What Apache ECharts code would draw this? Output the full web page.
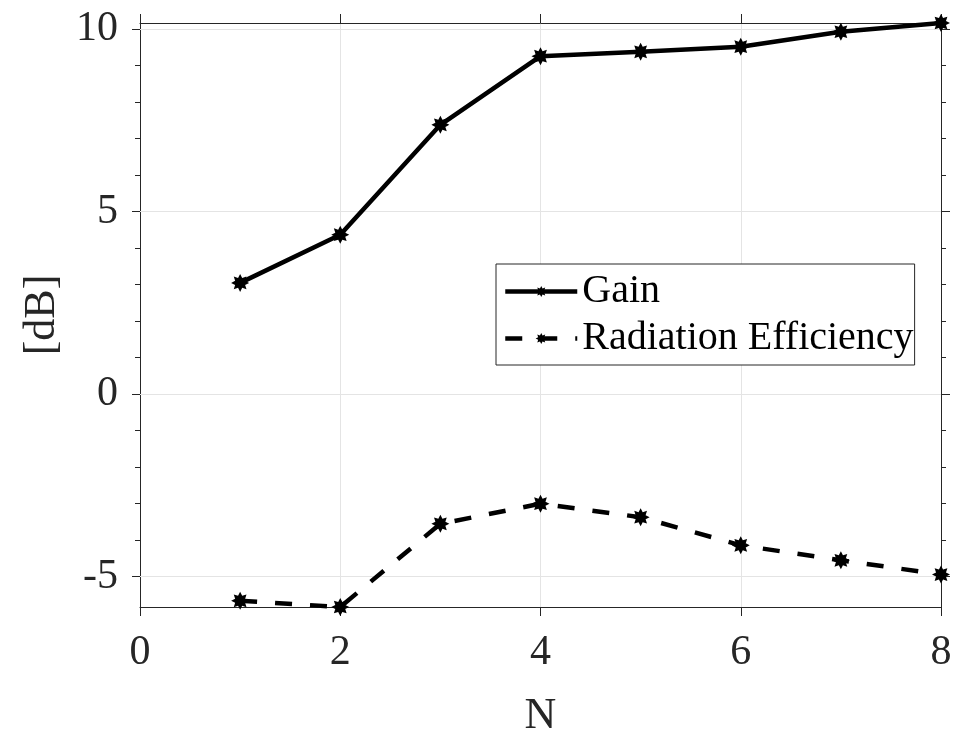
<!DOCTYPE html>
<html>
<head>
<meta charset="utf-8">
<script src="https://cdn.jsdelivr.net/npm/echarts@6/dist/echarts.min.js"></script>
<style>
  html, body { margin: 0; padding: 0; background: #fff; }
  #chart { width: 958px; height: 733px; }
</style>
</head>
<body>
<div id="chart"></div>
<script>
// Number of elements N
const nValues = [1, 2, 3, 4, 5, 6, 7, 8];
// Gain [dB]
const gainDb = [3.05, 4.37, 7.38, 9.26, 9.38, 9.52, 9.93, 10.17];
// Radiation efficiency [dB]
const radEffDb = [-5.66, -5.83, -3.55, -3.0, -3.37, -4.14, -4.55, -4.94];

const xTicks = [0, 2, 4, 6, 8];
const yMajorTicks = [-5, 0, 5, 10];
const yMinorTicks = [-5, -4, -3, -2, -1, 0, 1, 2, 3, 4, 5, 6, 7, 8, 9, 10];
const yRange = [-5.83, 10.17];

const AX = '#262626';
const GRIDC = '#e4e4e4';
const SERIF = '"Liberation Serif", "DejaVu Serif", serif';

// eight-pointed asterisk marker
const STAR = 'path://M100 50 L77.72 61.48 L85.36 85.36 L61.48 77.72 L50 100 L38.52 77.72 L14.64 85.36 L22.28 61.48 L0 50 L22.28 38.52 L14.64 14.64 L38.52 22.28 L50 0 L61.48 22.28 L85.36 14.64 L77.72 38.52 Z';

const pairs = (ys) => nValues.map((n, i) => [n, ys[i]]);

const chart = echarts.init(document.getElementById('chart'), null, { renderer: 'canvas' });

const yBase = {
  type: 'value', min: yRange[0], max: yRange[1], splitLine: { show: false }
};

chart.setOption({
  animation: false,
  backgroundColor: '#fff',
  grid: { left: 140, right: 17, top: 23, bottom: 126, containLabel: false, outerBoundsMode: 'none' },
  xAxis: [
    {
      type: 'value', min: 0, max: 8, interval: 2, position: 'bottom',
      name: 'N', nameLocation: 'middle', nameGap: 87,
      nameTextStyle: { fontFamily: SERIF, fontSize: 44, color: AX },
      axisLine: { show: true, onZero: false, lineStyle: { color: AX, width: 1 } },
      axisTick: { show: true, inside: false, length: 9, lineStyle: { color: AX } },
      axisLabel: { show: true, margin: 25, fontFamily: SERIF, fontSize: 42, color: AX },
      splitLine: { show: true, lineStyle: { color: GRIDC, width: 1 } }
    },
    {
      type: 'value', min: 0, max: 8, interval: 2, position: 'top',
      axisLine: { show: true, onZero: false, lineStyle: { color: AX, width: 1 } },
      axisTick: { show: true, inside: false, length: 9, lineStyle: { color: AX } },
      axisLabel: { show: false },
      splitLine: { show: false }
    }
  ],
  yAxis: [
    Object.assign({}, yBase, {
      position: 'left',
      name: '[dB]', nameLocation: 'middle', nameGap: 76, nameRotate: 90,
      nameTextStyle: { fontFamily: SERIF, fontSize: 44, color: AX },
      axisLine: { show: true, onZero: false, lineStyle: { color: AX, width: 1 } },
      axisTick: { show: true, inside: false, length: 8, customValues: yMajorTicks, lineStyle: { color: AX } },
      axisLabel: { show: true, margin: 22, customValues: yMajorTicks, fontFamily: SERIF, fontSize: 42, color: AX }
    }),
    Object.assign({}, yBase, {
      position: 'left',
      axisLine: { show: false, onZero: false },
      axisTick: { show: true, inside: false, length: 5, customValues: yMinorTicks, lineStyle: { color: AX } },
      axisLabel: { show: false }
    }),
    Object.assign({}, yBase, {
      position: 'right',
      axisLine: { show: true, onZero: false, lineStyle: { color: AX, width: 1 } },
      axisTick: { show: true, inside: false, length: 9, customValues: yMajorTicks, lineStyle: { color: AX } },
      axisLabel: { show: false }
    }),
    Object.assign({}, yBase, {
      position: 'right',
      axisLine: { show: false, onZero: false },
      axisTick: { show: true, inside: false, length: 5, customValues: yMinorTicks, lineStyle: { color: AX } },
      axisLabel: { show: false }
    })
  ],
  legend: {
    orient: 'vertical',
    left: 496, top: 264,
    padding: [4, 1, 3, 7],
    itemGap: 0,
    itemWidth: 72, itemHeight: 14,
    backgroundColor: '#fff',
    borderColor: AX, borderWidth: 1,
    lineStyle: { width: 'inherit' },
    textStyle: { fontFamily: SERIF, fontSize: 40, color: '#000', lineHeight: 47 },
    data: ['Gain', 'Radiation Efficiency']
  },
  series: [
    {
      name: 'Gain', type: 'line', xAxisIndex: 0, yAxisIndex: 0,
      data: pairs(gainDb),
      symbol: STAR, symbolSize: 18,
      lineStyle: { color: '#000', width: 4.5, type: 'solid' },
      itemStyle: { color: '#000' },
      z: 5,
      // horizontal reference lines at the major y ticks
      markLine: {
        silent: true, symbol: 'none', label: { show: false },
        lineStyle: { color: GRIDC, width: 1, type: 'solid' },
        emphasis: { disabled: true },
        animation: false,
        z: 1,
        data: yMajorTicks.map(v => ({ yAxis: v }))
      }
    },
    {
      name: 'Radiation Efficiency', type: 'line', xAxisIndex: 0, yAxisIndex: 0,
      data: pairs(radEffDb),
      symbol: STAR, symbolSize: 18,
      lineStyle: { color: '#000', width: 4.5, type: [17, 18] },
      itemStyle: { color: '#000' },
      z: 5
    }
  ]
});
</script>
</body>
</html>
